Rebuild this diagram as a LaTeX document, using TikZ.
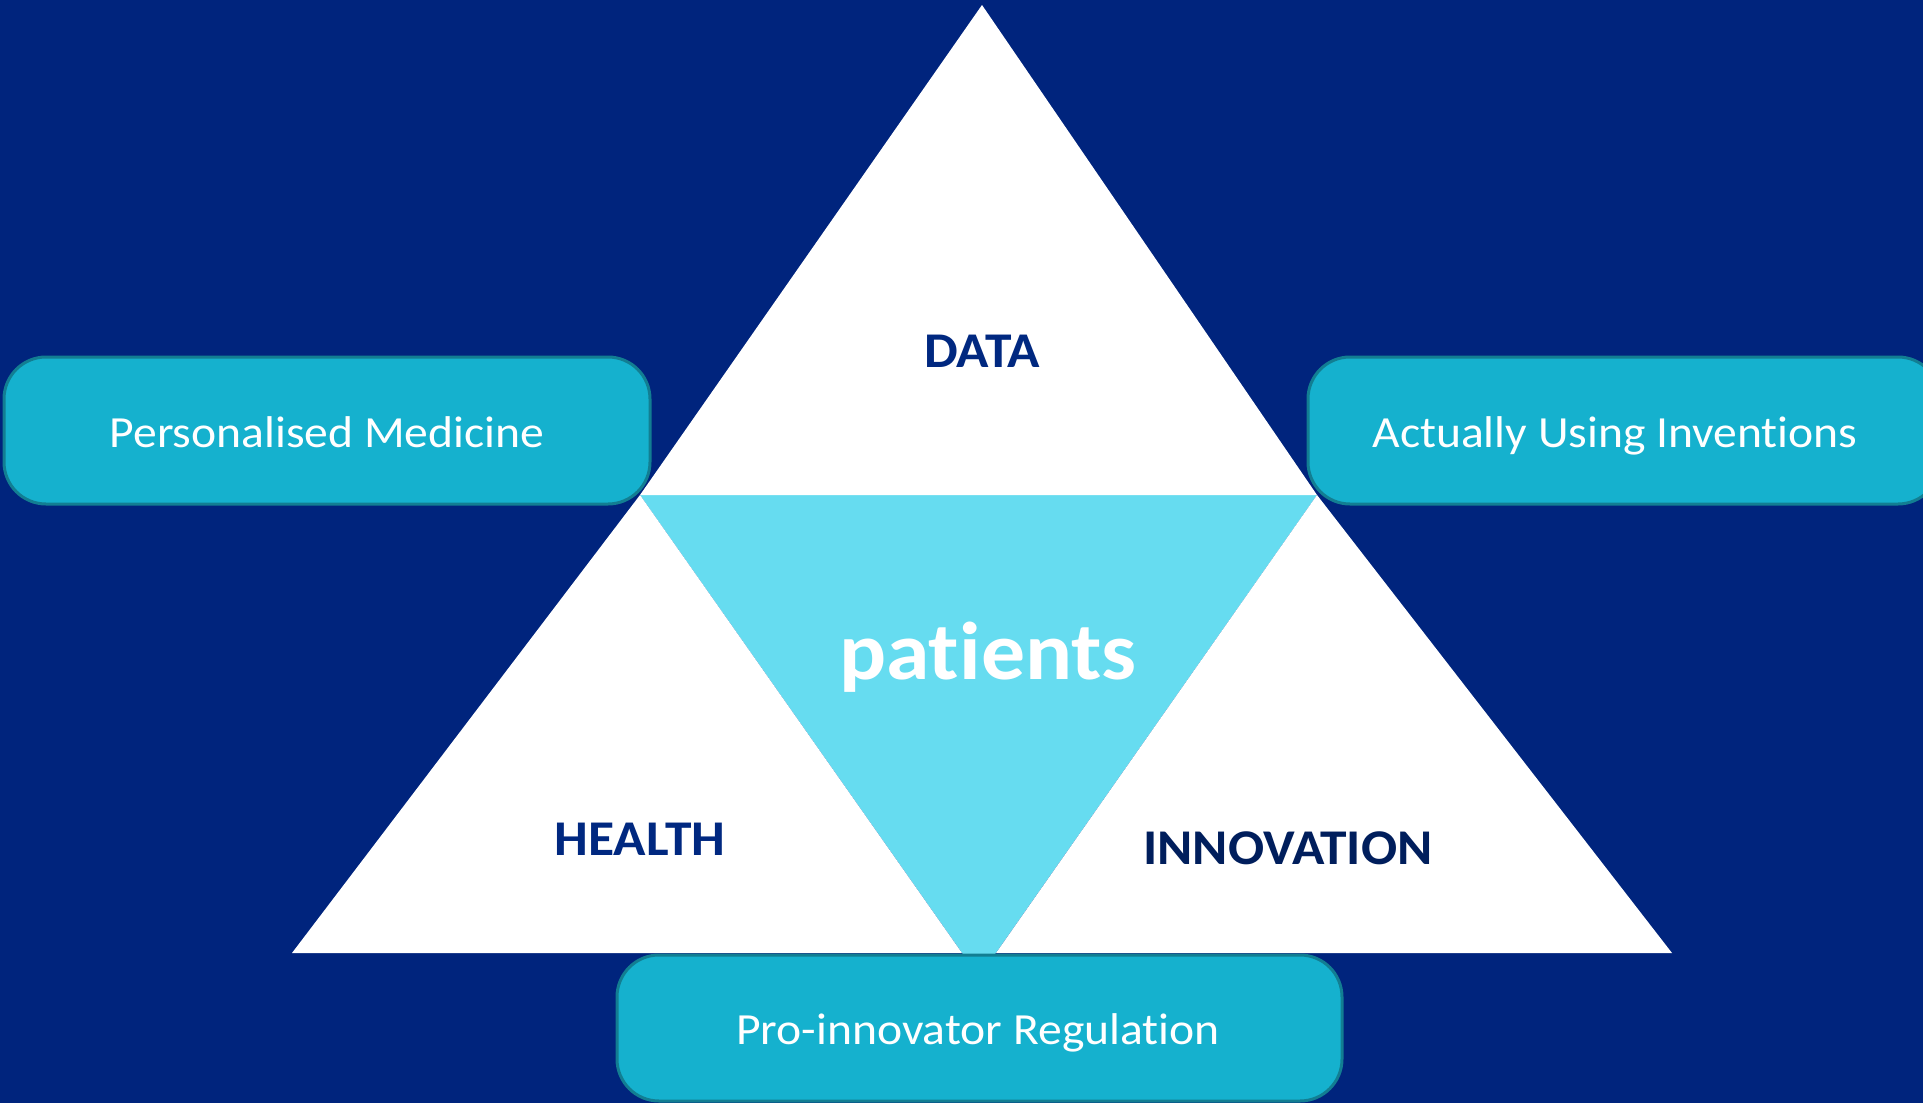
\documentclass[tikz,border=0pt]{standalone}
\usepackage{fontspec}
\setmainfont{Carlito}[FakeStretch=1.07,RawFeature=-liga]
\definecolor{bgnavy}{RGB}{0,36,125}
\definecolor{tricyan}{RGB}{102,220,240}
\definecolor{boxfill}{RGB}{21,177,206}
\definecolor{boxline}{RGB}{18,126,146}
\definecolor{labnavy}{RGB}{0,40,128}
\definecolor{labdark}{RGB}{0,30,92}
\begin{document}
\begin{tikzpicture}[x=1pt,y=-1pt,
  topicbox/.style={draw=boxline,line width=3pt,fill=boxfill,rounded corners=42pt},
  boxtext/.style={text=white,anchor=base,inner sep=0pt,font=\fontsize{44.5}{52}\selectfont},
  lab/.style={anchor=base,inner sep=0pt,font=\bfseries\fontsize{50}{58}\selectfont}]
\useasboundingbox (0,0) rectangle (1923,1103);
\fill[bgnavy] (0,0) rectangle (1923,1103);
% triangles
\fill[tricyan] (640,495) -- (1317,495) -- (979,977) -- cycle;
\fill[white] (982,5) -- (1317,495) -- (640,495) -- cycle;
\fill[white] (640,495) -- (962,953) -- (292,953) -- cycle;
\fill[white] (1317,495) -- (1672,953) -- (996,953) -- cycle;
% boxes
\draw[topicbox] (4,357) rectangle (650,504);
\draw[topicbox] (1308,357) rectangle (1940,504);
\draw[topicbox] (617,955) rectangle (1342,1101);
% texts
\node[boxtext] (pm) at (327,447) {Personalised Medicine};
\node[boxtext] (aui) at (1615,447) {Actually Using Inventions};
\node[boxtext] (pir) at (978,1044) {Pro-innovator Regulation};
\node[lab,text=labnavy] (data) at (982,367) {DATA};
\node[lab,text=labnavy] (health) at (640,855) {HEALTH};
\node[lab,text=labdark] (innov) at (1288,864) {INNOVATION};
\node[anchor=base,inner sep=0pt,text=white,font=\bfseries\fontsize{82}{94}\selectfont] (pat) at (988,679) {patients};
\end{tikzpicture}
\end{document}
